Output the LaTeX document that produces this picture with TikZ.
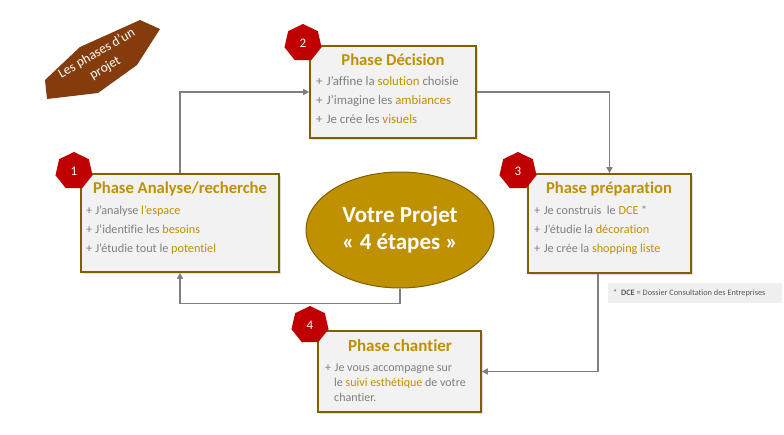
\documentclass[tikz,border=0pt]{standalone}
\usepackage{fontspec}
\setmainfont{Carlito}[Ligatures=NoCommon]
\usetikzlibrary{shapes.geometric,arrows.meta}
\definecolor{gold}{HTML}{BF9000}
\definecolor{boxborder}{HTML}{7F6000}
\definecolor{boxfill}{HTML}{F2F2F2}
\definecolor{txtgray}{HTML}{7F7F7F}
\definecolor{conncol}{HTML}{7F7F7F}
\definecolor{redbadge}{HTML}{C00000}
\definecolor{brownlabel}{HTML}{843C0C}
\definecolor{fnfill}{HTML}{EFEFEF}
\definecolor{fntext}{HTML}{595959}
\newcommand\hl[1]{\textcolor{gold}{#1}}
\tikzset{
  phasebox/.style={draw=boxborder, fill=boxfill, line width=1.6pt, inner sep=0pt},
  phasetitle/.style={text=gold, font=\bfseries\fontsize{16.6}{19}\selectfont, inner sep=0pt},
  bullet/.style={text=txtgray, font=\fontsize{12.2}{14}\selectfont, anchor=base west, inner sep=0pt},
  badge/.style={regular polygon, regular polygon sides=7, fill=redbadge, minimum size=38pt, inner sep=0pt, text=white, font=\fontsize{13}{15}\selectfont},
  conn/.style={draw=conncol, line width=1.5pt, -{Triangle[length=6pt,width=6pt]}}
}
\begin{document}
\begin{tikzpicture}[x=1pt,y=-1pt]
\useasboundingbox (0,0) rectangle (784,434);
\fill[white] (0,0) rectangle (784,434);

% title label
\fill[brownlabel] (140,20) -- (160,29) -- (137,65) -- (98,93) -- (47,99) -- (45,80) -- (80,47) -- cycle;
\node[text=white, rotate=30, align=center, font=\fontsize{13.5}{17}\selectfont, inner sep=0pt] (lbl) at (101,61) {Les phases d’un\\projet};

% boxes
\fill[black!12] (83,176) rectangle (281,274);
\fill[black!12] (312,48) rectangle (478,140);
\fill[black!12] (530,176) rectangle (693,275);
\fill[black!12] (320,333) rectangle (483,414);
\node[phasebox, minimum width=198pt, minimum height=98pt] (p1) at (180,223) {};
\node[phasebox, minimum width=166pt, minimum height=92pt] (p2) at (393,92) {};
\node[phasebox, minimum width=163pt, minimum height=99pt] (p3) at (609.5,223.5) {};
\node[phasebox, minimum width=163pt, minimum height=81pt] (p4) at (399.5,371.5) {};

% ellipse
\node[ellipse, fill=gold, draw=boxborder, line width=1pt, minimum width=188pt, minimum height=116pt, text=white, font=\bfseries\fontsize{23}{27}\selectfont, align=center] (ell) at (400,230) {Votre Projet\\« 4 étapes »};

% connectors
\draw[conn] (p1.north) |- (p2.west);
\draw[conn] (p2.east) -| (p3.north);
\draw[conn] ([xshift=-11.5pt]p3.south) |- (p4.east);
\draw[conn] (ell.south) -- ++(0,15) -| (p1.south);

% box 1
\node[phasetitle] (t1) at (180,189) {Phase Analyse/recherche};
\node[bullet] (l11) at (86,214) {+\hspace{3pt}J'analyse \hl{l'espace}};
\node[bullet] (l12) at (86,233) {+\hspace{3pt}J'identifie les \hl{besoins}};
\node[bullet] (l13) at (86,252) {+\hspace{3pt}J'étudie tout le \hl{potentiel}};

% box 2
\node[phasetitle] (t2) at (393,60) {Phase Décision};
\node[bullet, font=\fontsize{12.8}{15}\selectfont] (l21) at (316,85) {+\hspace{4pt}J'affine la \hl{solution} choisie};
\node[bullet, font=\fontsize{12.8}{15}\selectfont] (l22) at (316,104) {+\hspace{4pt}J’imagine les \hl{ambiances}};
\node[bullet, font=\fontsize{12.8}{15}\selectfont] (l23) at (316,123) {+\hspace{4pt}Je crée les \hl{visuels}};

% box 3
\node[phasetitle] (t3) at (609,189) {Phase préparation};
\node[bullet] (l31) at (534,214) {+\hspace{3.5pt}Je construis\ \ le \hl{DCE} *};
\node[bullet] (l32) at (534,233) {+\hspace{3.5pt}J'étudie la \hl{décoration}};
\node[bullet] (l33) at (534,252) {+\hspace{3.5pt}Je crée la \hl{shopping liste}};

% box 4
\node[phasetitle, font=\bfseries\fontsize{17}{20}\selectfont] (t4) at (400,346) {Phase chantier};
\node[bullet, font=\fontsize{12}{14}\selectfont] (l41) at (325,371) {+\hspace{3.5pt}Je vous accompagne sur};
\node[bullet, font=\fontsize{12}{14}\selectfont] (l42) at (334,386) {le \hl{suivi esthétique} de votre};
\node[bullet, font=\fontsize{12}{14}\selectfont] (l43) at (334,401) {chantier.};

% badges
\node[badge] (b1) at (74,171) {1};
\node[badge] (b2) at (303,43) {2};
\node[badge] (b3) at (518,171) {3};
\node[badge] (b4) at (310,325) {4};

% footnote
\node[fill=fnfill, minimum width=174pt, minimum height=20pt, inner sep=0pt] (fn) at (695,293) {};
\node[text=fntext, font=\fontsize{8.3}{10}\selectfont, anchor=west, inner sep=0pt] (fnt) at (613,293) {*\ \ \textbf{DCE} = Dossier Consultation des Entreprises};
\end{tikzpicture}
\end{document}
